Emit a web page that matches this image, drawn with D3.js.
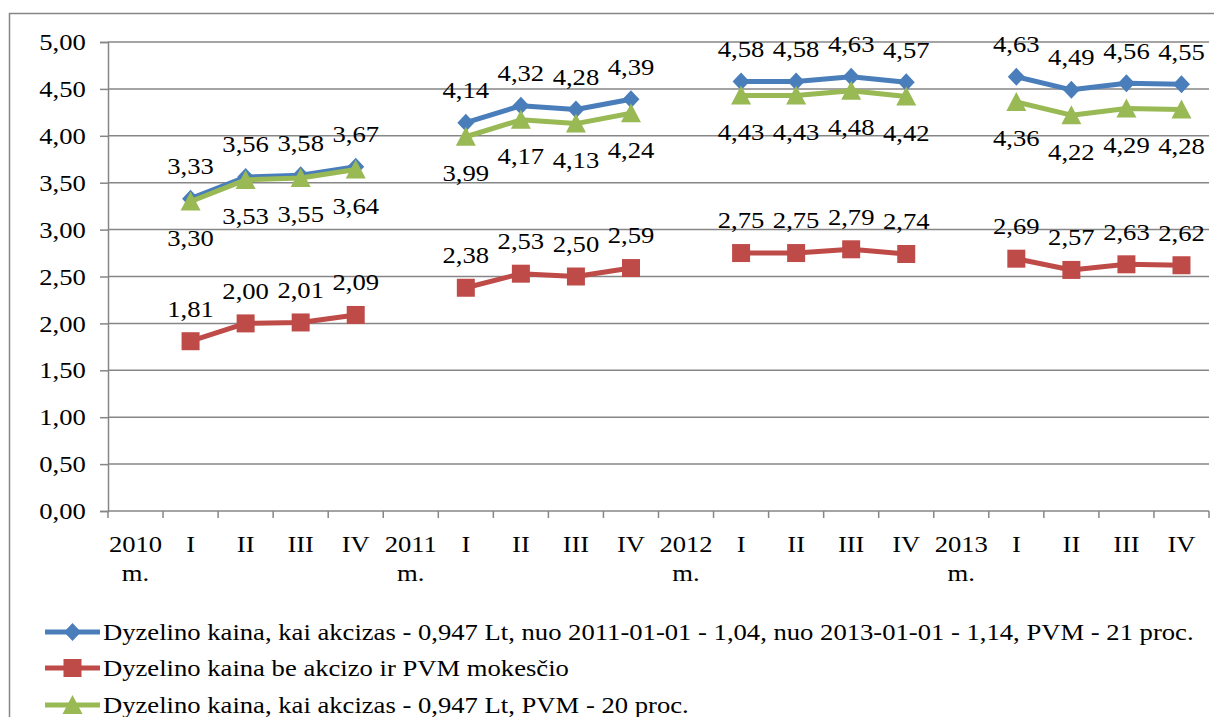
<!DOCTYPE html>
<html>
<head>
<meta charset="utf-8">
<script src="https://cdnjs.cloudflare.com/ajax/libs/d3/7.8.5/d3.min.js"></script>
<style>
  html, body { margin: 0; padding: 0; background: #fff; }
  text { font-family: "Liberation Serif", "Times New Roman", serif; fill: #000; }
</style>
</head>
<body>
<svg id="chart" width="1214" height="717"></svg>
<script>
// categories: year marker followed by four quarters
var categories = ["2010 m.", "I", "II", "III", "IV",
                  "2011 m.", "I", "II", "III", "IV",
                  "2012 m.", "I", "II", "III", "IV",
                  "2013 m.", "I", "II", "III", "IV"];

var withExcise = [null, 3.33, 3.56, 3.58, 3.67,
                  null, 4.14, 4.32, 4.28, 4.39,
                  null, 4.58, 4.58, 4.63, 4.57,
                  null, 4.63, 4.49, 4.56, 4.55];

var withoutTax = [null, 1.81, 2.00, 2.01, 2.09,
                  null, 2.38, 2.53, 2.50, 2.59,
                  null, 2.75, 2.75, 2.79, 2.74,
                  null, 2.69, 2.57, 2.63, 2.62];

var vat20 = [null, 3.30, 3.53, 3.55, 3.64,
             null, 3.99, 4.17, 4.13, 4.24,
             null, 4.43, 4.43, 4.48, 4.42,
             null, 4.36, 4.22, 4.29, 4.28];

var yTicks = [0, 0.5, 1, 1.5, 2, 2.5, 3, 3.5, 4, 4.5, 5];

var seriesNames = [
    "Dyzelino kaina, kai akcizas - 0,947 Lt, nuo 2011-01-01 - 1,04, nuo 2013-01-01 - 1,14, PVM - 21 proc.",
    "Dyzelino kaina be akcizo ir PVM mokesčio",
    "Dyzelino kaina, kai akcizas - 0,947 Lt, PVM - 20 proc."
];

var FONT = 24;
var SX = 1.11;   // source picture is slightly stretched horizontally
var SERIF = "'Liberation Serif', 'Times New Roman', serif";

var series = [
    {name: seriesNames[0], values: withExcise, color: "#4a7ebb", marker: "diamond", labelDy: -33},
    {name: seriesNames[1], values: withoutTax, color: "#be4b48", marker: "square", labelDy: -33},
    {name: seriesNames[2], values: vat20, color: "#98b954", marker: "triangle", labelDy: 36}
];

var svg = d3.select("#chart");
var plot = {left: 108, right: 1209, top: 42, bottom: 511};

// outer chart border
svg.append("rect")
  .attr("x", 9.5).attr("y", 13.5)
  .attr("width", 1220).attr("height", 720)
  .attr("fill", "none").attr("stroke", "#868686").attr("stroke-width", 1.5);

var x = d3.scaleBand()
  .domain(d3.range(categories.length))
  .range([plot.left, plot.right])
  .padding(0);

var y = d3.scaleLinear().domain([0, 5]).range([plot.bottom, plot.top]);

var fmt = function(v) { return d3.format(".2f")(v).replace(".", ","); };
var cx = function(i) { return x(i) + x.bandwidth() / 2; };

// gridlines
svg.append("g").selectAll("line")
  .data(yTicks.slice(1))
  .enter().append("line")
  .attr("x1", plot.left).attr("x2", plot.right)
  .attr("y1", function(d) { return y(d); })
  .attr("y2", function(d) { return y(d); })
  .attr("stroke", "#868686").attr("stroke-width", 1.5);

// y axis
var yAxis = svg.append("g")
  .attr("transform", "translate(" + plot.left + ",0)")
  .call(d3.axisLeft(y).tickValues(yTicks).tickSize(8).tickPadding(12).tickFormat(fmt));
yAxis.attr("font-family", SERIF);
yAxis.select(".domain").attr("stroke", "#868686").attr("stroke-width", 1.5);
yAxis.selectAll(".tick line").attr("stroke", "#868686").attr("stroke-width", 1.5);
yAxis.selectAll("text")
  .style("font-family", SERIF)
  .style("font-size", FONT + "px").attr("fill", "#000")
  .attr("transform", "scale(" + SX + ",1)");

// x axis line and boundary ticks
var xg = svg.append("g");
xg.append("line")
  .attr("x1", plot.left).attr("x2", plot.right)
  .attr("y1", plot.bottom).attr("y2", plot.bottom)
  .attr("stroke", "#868686").attr("stroke-width", 1.5);
xg.selectAll(".bt")
  .data(d3.range(categories.length + 1))
  .enter().append("line")
  .attr("class", "bt")
  .attr("x1", function(i) { return plot.left + i * x.step(); })
  .attr("x2", function(i) { return plot.left + i * x.step(); })
  .attr("y1", plot.bottom).attr("y2", plot.bottom + 7)
  .attr("stroke", "#868686").attr("stroke-width", 1.5);

var xl = xg.selectAll(".xl")
  .data(categories)
  .enter().append("text")
  .attr("class", "xl")
  .attr("text-anchor", "middle")
  .style("font-size", FONT + "px")
  .attr("transform", function(d, i) {
      return "translate(" + cx(i) + "," + (plot.bottom + 41) + ") scale(" + SX + ",1)";
  });
xl.each(function(d) {
    var parts = d.split(" ");
    var t = d3.select(this);
    parts.forEach(function(p, k) {
        t.append("tspan").attr("x", 0).attr("dy", k === 0 ? 0 : 29).text(p);
    });
});

// lines, markers
var line = d3.line()
  .defined(function(d) { return d !== null; })
  .x(function(d, i) { return cx(i); })
  .y(function(d) { return y(d); });

function markerPath(type) {
    if (type === "diamond") return "M0,-9L8.5,0L0,9L-8.5,0Z";
    if (type === "square") return "M-9,-9H9V9H-9Z";
    return "M0,-10L10,9H-10Z";
}

series.forEach(function(s) {
    var g = svg.append("g");
    g.append("path")
      .datum(s.values)
      .attr("d", line)
      .attr("fill", "none")
      .attr("stroke", s.color)
      .attr("stroke-width", 5)
      .attr("stroke-linejoin", "round");

    var pts = s.values.map(function(v, i) { return {v: v, i: i}; })
      .filter(function(p) { return p.v !== null; });

    g.selectAll(".mk")
      .data(pts)
      .enter().append("path")
      .attr("class", "mk")
      .attr("d", markerPath(s.marker))
      .attr("transform", function(p) {
          return "translate(" + cx(p.i) + "," + y(p.v) + ")";
      })
      .attr("fill", s.color);

    s.pts = pts;
});

// data labels drawn above everything
series.forEach(function(s) {
    svg.append("g").selectAll("text")
      .data(s.pts)
      .enter().append("text")
      .attr("transform", function(p) {
          return "translate(" + cx(p.i) + "," + (y(p.v) + s.labelDy) + ") scale(" + SX + ",1)";
      })
      .attr("dy", "0.35em")
      .attr("text-anchor", "middle")
      .style("font-size", FONT + "px")
      .text(function(p) { return fmt(p.v); });
});

// legend
var legend = svg.append("g");
var rowY = [632, 668, 705];
series.forEach(function(s, k) {
    var row = legend.append("g").attr("transform", "translate(0," + rowY[k] + ")");
    row.append("line")
      .attr("x1", 45).attr("x2", 100).attr("y1", 0).attr("y2", 0)
      .attr("stroke", s.color).attr("stroke-width", 5);
    row.append("path")
      .attr("d", markerPath(s.marker))
      .attr("transform", "translate(72.5,0)")
      .attr("fill", s.color);
    row.append("text")
      .attr("transform", "translate(103,0) scale(" + SX + ",1)")
      .attr("dy", "0.35em")
      .style("font-size", FONT + "px")
      .text(s.name);
});
</script>
</body>
</html>
